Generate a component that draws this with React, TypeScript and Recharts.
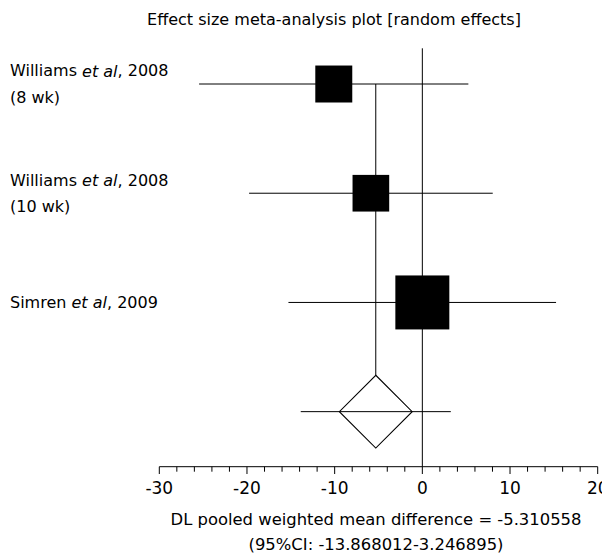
import React from 'react'
import {
  ScatterChart,
  Scatter,
  XAxis,
  YAxis,
  ReferenceLine,
} from 'recharts'

// study data (rows top to bottom)
const studyAuthors = ['Williams', 'Williams', 'Simren']
const studyYears = ['2008', '2008', '2009']
const studyNotes = ['(8 wk)', '(10 wk)', '']
const studyMeans = [-10.1, -5.87, 0.0]
const studyLower = [-25.46, -19.76, -15.27]
const studyUpper = [5.25, 8.03, 15.25]
const studyWeights = [24.3, 23.9, 51.8]

// pooled estimate
const pooledMean = -5.310558
const pooledLower = -13.868012
const pooledUpper = 3.246895

const xTicks = [-30, -28, -26, -24, -22, -20, -18, -16, -14, -12, -10, -8, -6, -4, -2, 0, 2, 4, 6, 8, 10, 12, 14, 16, 18, 20]
const xLabelTicks = [-30, -20, -10, 0, 10, 20]
const rowTicks = [0, 1, 2]

const FONT = '"DejaVu Sans", Verdana, sans-serif'
const POOLED_ROW = 3
const DIAMOND_HALF_ROWS = 1 / 3
const DIAMOND_HALF_PX = 36.4

const studyData = studyMeans.map((m, i) => ({ x: m, y: i, w: studyWeights[i] }))
const pooledData = [{ x: pooledMean, y: POOLED_ROW }]

const SquareShape = (props: any) => {
  const { cx, cy, payload } = props
  const s = 7.5 * Math.sqrt(payload.w)
  return <rect x={cx - s / 2} y={cy - s / 2} width={s} height={s} fill="#000" />
}

const DiamondShape = (props: any) => {
  const { cx, cy } = props
  const h = DIAMOND_HALF_PX
  return (
    <polygon
      points={`${cx},${cy - h} ${cx + h},${cy} ${cx},${cy + h} ${cx - h},${cy}`}
      fill="none"
      stroke="#000"
      strokeWidth={1.1}
    />
  )
}

const XTick = (props: any) => {
  const { x, y, payload } = props
  const major = xLabelTicks.includes(payload.value)
  return (
    <g>
      <line x1={x} y1={y} x2={x} y2={y + (major ? 7.3 : 5)} stroke="#000" strokeWidth={1} />
      {major && (
        <text x={x} y={y + 27} textAnchor="middle" fontSize={17} fontFamily={FONT} fill="#000">
          {payload.value}
        </text>
      )}
    </g>
  )
}

const YTick = (props: any) => {
  const { y, payload } = props
  const i = payload.value
  const note = studyNotes[i]
  const first = note ? y - 13.2 : y
  return (
    <g>
      <text x={2} y={first} dominantBaseline="central" fontSize={16} fontFamily={FONT} fill="#000">
        {studyAuthors[i]} <tspan fontStyle="italic">et al</tspan>, {studyYears[i]}
      </text>
      {note && (
        <text x={2} y={y + 13.2} dominantBaseline="central" fontSize={16} fontFamily={FONT} fill="#000">
          {note}
        </text>
      )}
    </g>
  )
}

export default function App() {
  return (
    <div style={{ position: 'relative', width: 602, height: 545, fontFamily: FONT }}>
      {/* page is exactly the chart size; keep scrollbars from eating width */}
      <style>{'html, body { overflow: hidden; }'}</style>
      <div
        style={{
          position: 'absolute',
          left: 326,
          top: 12,
          transform: 'translate(-50%, -50%)',
          whiteSpace: 'nowrap',
          fontSize: 16,
          lineHeight: 1,
        }}
      >
        Effect size meta-analysis plot [random effects]
      </div>
      <ScatterChart
        width={602}
        height={545}
        margin={{ top: 40.3, right: 12.3, bottom: 46.3, left: 0 }}
      >
        <XAxis
          type="number"
          dataKey="x"
          domain={[-30, 20]}
          ticks={xTicks}
          interval={0}
          tickSize={0}
          tickMargin={0}
          tick={<XTick />}
          axisLine={{ stroke: '#000', strokeWidth: 1 }}
          height={40}
          allowDataOverflow
        />
        <YAxis
          type="number"
          dataKey="y"
          domain={[-0.327, 3.504]}
          reversed
          ticks={rowTicks}
          interval={0}
          tick={<YTick />}
          axisLine={false}
          tickLine={false}
          width={151.3}
          allowDataOverflow
        />
        <ReferenceLine x={0} stroke="#000" strokeWidth={1} />
        {studyMeans.map((m, i) => (
          <ReferenceLine
            key={i}
            segment={[{ x: studyLower[i], y: i }, { x: studyUpper[i], y: i }]}
            stroke="#000"
            strokeWidth={1}
          />
        ))}
        <ReferenceLine
          segment={[{ x: pooledLower, y: POOLED_ROW }, { x: pooledUpper, y: POOLED_ROW }]}
          stroke="#000"
          strokeWidth={1}
        />
        <ReferenceLine
          segment={[{ x: pooledMean, y: 0 }, { x: pooledMean, y: POOLED_ROW - DIAMOND_HALF_ROWS }]}
          stroke="#000"
          strokeWidth={1}
        />
        <Scatter data={studyData} shape={<SquareShape />} isAnimationActive={false} />
        <Scatter data={pooledData} shape={<DiamondShape />} isAnimationActive={false} />
      </ScatterChart>
      <div
        style={{
          position: 'absolute',
          left: 368,
          top: 512,
          transform: 'translate(-50%, -50%)',
          whiteSpace: 'nowrap',
          fontSize: 16.4,
          lineHeight: 1,
        }}
      >
        DL pooled weighted mean difference = -5.310558
      </div>
      <div
        style={{
          position: 'absolute',
          left: 368,
          top: 537,
          transform: 'translate(-50%, -50%)',
          whiteSpace: 'nowrap',
          fontSize: 16.4,
          lineHeight: 1,
        }}
      >
        (95%CI: -13.868012-3.246895)
      </div>
    </div>
  )
}
